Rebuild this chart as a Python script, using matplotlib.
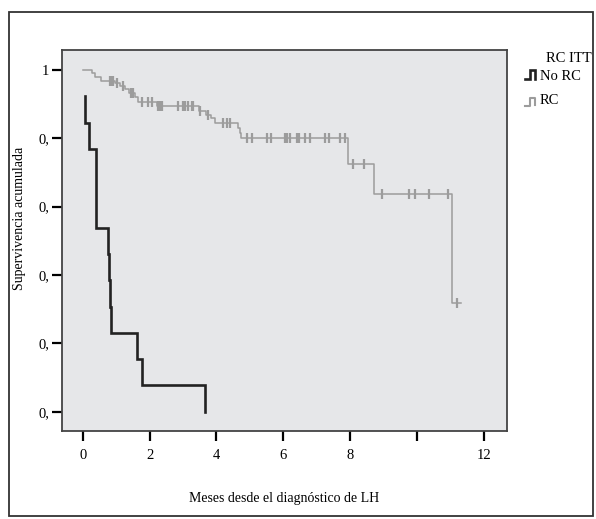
import numpy as np
import matplotlib
matplotlib.use('Agg')
import matplotlib.pyplot as plt
from matplotlib.patches import Rectangle
from matplotlib.lines import Line2D

plt.rcParams['font.family'] = ['Liberation Serif', 'DejaVu Serif']

# No RC group (n = 13): step points (time in months, cumulative survival)
norc_t = [0.07, 0.07, 0.19, 0.40, 0.76, 0.79, 0.82, 0.86, 1.61, 1.77, 3.66]
norc_s = [12/13, 11/13, 10/13, 7/13, 6/13, 5/13, 4/13, 3/13, 2/13, 1/13, 0.0]

# RC group: step points
rc_t = [0.02, 0.29, 0.36, 0.55, 0.97, 1.12, 1.27, 1.39, 1.56, 1.66, 2.23,
        3.47, 3.68, 3.83, 3.96, 4.66, 4.70, 4.74, 7.95, 8.71, 11.04, 11.32]
rc_s = [1.0, 0.99, 0.98, 0.968, 0.961, 0.953, 0.944, 0.932, 0.922, 0.907, 0.895,
        0.881, 0.868, 0.859, 0.844, 0.83, 0.815, 0.80, 0.724, 0.636, 0.317, 0.317]

# RC group: censored times
rc_cens = [0.82, 0.87, 0.92, 1.02, 1.21, 1.43, 1.49, 1.76, 1.96, 2.06, 2.26, 2.31, 2.36,
           2.86, 3.01, 3.06, 3.16, 3.26, 3.31, 3.52, 3.76, 4.21, 4.31, 4.41,
           4.91, 5.06, 5.50, 5.62, 6.05, 6.12, 6.20, 6.40, 6.48, 6.65, 6.80,
           7.25, 7.38, 7.70, 7.85, 8.09, 8.41, 8.96, 9.76, 9.94, 10.37, 10.94, 11.19]

xticks = [0, 2, 4, 6, 8, 10, 12]
xtick_labels = ['0', '2', '4', '6', '8', '', '12']
yticks = [0.0, 0.2, 0.4, 0.6, 0.8, 1.0]
ytick_labels = ['0,', '0,', '0,', '0,', '0,', '1']

grey = '#9c9c9c'
black = '#222222'

fig = plt.figure(figsize=(5.96, 5.19), dpi=100)
ax = fig.add_axes([0.104, 0.1701, 0.746, 0.7336])
ax.set_facecolor('#e6e7e9')

ax.step(norc_t, norc_s, where='post', color=black, lw=1.9, solid_joinstyle='miter')
ax.step(rc_t, rc_s, where='post', color=grey, lw=1.1)

# censor marks on the RC curve
cens_s = [rc_s[np.searchsorted(rc_t, c, side='right') - 1] for c in rc_cens]
ax.plot(rc_cens, cens_s, linestyle='none', marker='|', markersize=7.5,
        markeredgewidth=1.6, color=grey)

ax.set_xlim(-0.62, 12.68)
ax.set_ylim(-0.0556, 1.0585)
ax.set_xticks(xticks)
ax.set_xticklabels(xtick_labels)
ax.set_yticks(yticks)
ax.set_yticklabels(ytick_labels)
ax.tick_params(axis='both', direction='out', length=7, width=1.6, labelsize=10.5, color='black')
ax.tick_params(axis='x', pad=6)
ax.tick_params(axis='y', pad=2)
for sp in ax.spines.values():
    sp.set_color('#444444')
    sp.set_linewidth(1.3)

ax.set_xlabel('Meses desde el diagnóstico de LH', fontsize=10, labelpad=22)
ax.set_ylabel('Supervivencia acumulada', fontsize=10)
ax.yaxis.set_label_coords(-0.081, 0.559)

# legend drawn by hand on the right side
W, H = 596.0, 519.0
def fx(px):
    return px / W
def fy(py):
    return 1 - py / H

fig.text(fx(592), fy(59), 'RC ITT', ha='right', va='center', fontsize=10.5)
fig.add_artist(Line2D([fx(525), fx(530), fx(530), fx(535), fx(535)],
                      [fy(79), fy(79), fy(70), fy(70), fy(79)],
                      color=black, lw=1.9, solid_joinstyle='miter'))
fig.text(fx(540), fy(76), 'No RC', ha='left', va='center', fontsize=10.5)
fig.add_artist(Line2D([fx(525), fx(530), fx(530), fx(535), fx(535)],
                      [fy(106), fy(106), fy(98), fy(98), fy(105)],
                      color=grey, lw=1.5))
fig.text(fx(540), fy(100), 'RC', ha='left', va='center', fontsize=10.5)

# outer frame
fig.add_artist(Rectangle((fx(9), fy(516)), fx(593) - fx(9), fy(12) - fy(516),
                         fill=False, edgecolor='#333333', lw=1.3))

fig.savefig('out.png', dpi=100)
